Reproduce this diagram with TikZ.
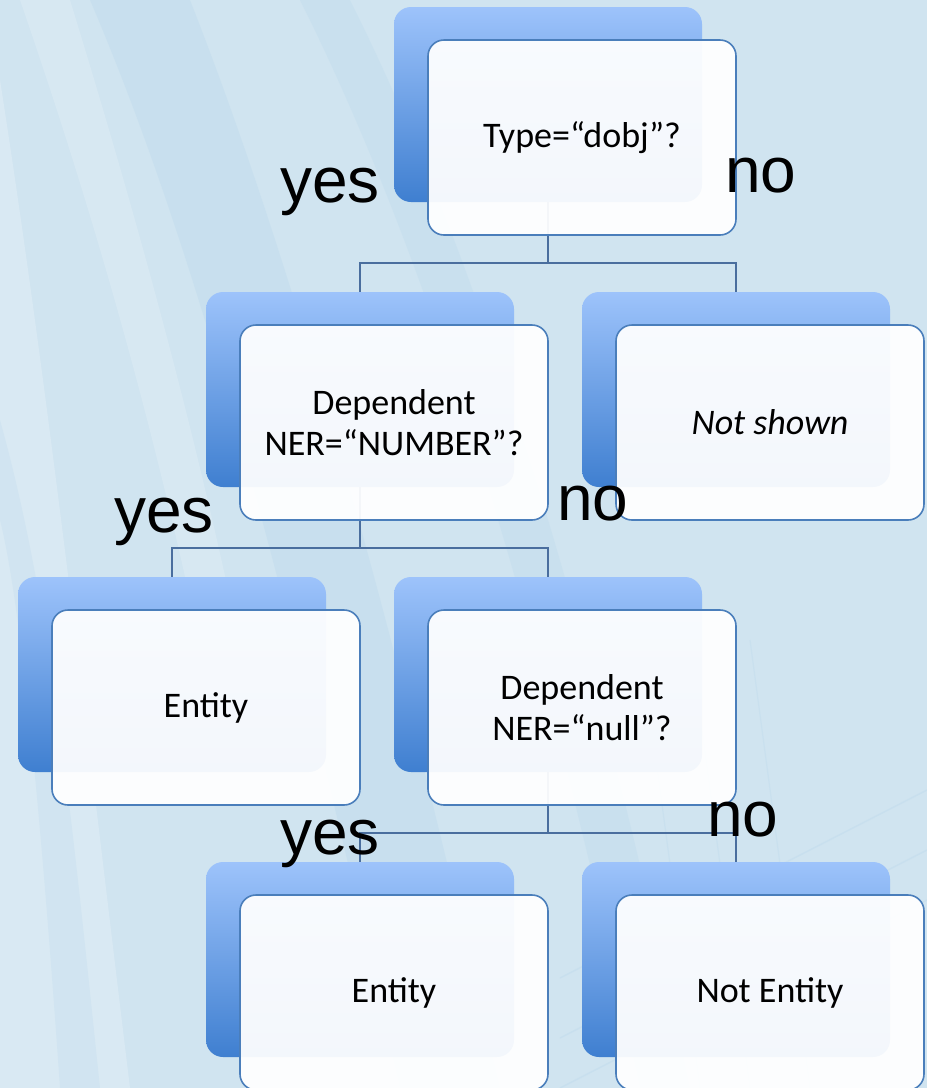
\documentclass[tikz,border=0pt]{standalone}
\usepackage{fontspec}
\setmainfont{Carlito}
\newfontfamily\labelfont{Liberation Sans}
\usetikzlibrary{calc}

\definecolor{bgblue}{HTML}{D0E4F0}
\definecolor{streakblue}{HTML}{BAD8EC}
\definecolor{backtop}{HTML}{9DC3FB}
\definecolor{backmid}{HTML}{88B1EF}
\definecolor{backbot}{HTML}{3F7FD0}
\definecolor{frontline}{HTML}{4A7EBB}
\definecolor{linkcol}{HTML}{4A6E9E}

\tikzset{
  backbox/.style={rectangle, rounded corners=17pt, minimum width=308pt,
    minimum height=195pt, inner sep=0pt, draw=none,
    top color=backtop, middle color=backmid, bottom color=backbot},
  frontbox/.style={rectangle, rounded corners=16pt, minimum width=308pt,
    minimum height=195pt, inner sep=0pt, draw=frontline, line width=1.6pt,
    fill=white, fill opacity=0.94, text opacity=1, text=black,
    align=center, font=\fontsize{36}{41}\selectfont},
  link/.style={draw=linkcol, line width=1.6pt},
  answer/.style={anchor=base west, inner sep=0pt,
    font=\labelfont\fontsize{64}{64}\selectfont}
}

\begin{document}
\begin{tikzpicture}[x=1pt, y=-1pt]
\useasboundingbox (0,0) rectangle (927,1088);

% backdrop with soft brush streaks
\fill[bgblue] (0,0) rectangle (927,1088);
\fill[streakblue, opacity=0.35] (90,0) .. controls (210,280) and (300,650) .. (400,1088)
  -- (500,1088) .. controls (400,650) and (300,280) .. (190,0) -- cycle;
\fill[streakblue, opacity=0.3] (300,0) .. controls (400,200) and (520,520) .. (640,1088)
  -- (690,1088) .. controls (570,520) and (450,200) .. (350,0) -- cycle;
\fill[white, opacity=0.2] (0,80) .. controls (50,400) and (90,760) .. (130,1088)
  -- (0,1088) -- cycle;
\fill[white, opacity=0.15] (20,0) .. controls (110,260) and (180,520) .. (230,800)
  -- (270,800) .. controls (220,520) and (150,260) .. (70,0) -- cycle;
\fill[streakblue, opacity=0.25] (0,420) .. controls (50,600) and (70,800) .. (100,1088)
  -- (60,1088) .. controls (40,800) and (20,600) .. (0,520) -- cycle;
\foreach \o in {0,50,110}{
  \draw[streakblue, line width=1.5pt, opacity=0.35] (560,1088-\o) -- (927,900-\o);
  \draw[streakblue, line width=1.2pt, opacity=0.3] (700+\o,1088) -- (640+\o,640);
}

% back tiles
\node[backbox] (b1)  at (548,104.5) {};
\node[backbox] (b2a) at (360,389.5) {};
\node[backbox] (b2b) at (736,389.5) {};
\node[backbox] (b3a) at (172,674.5) {};
\node[backbox] (b3b) at (548,674.5) {};
\node[backbox] (b4a) at (360,959.5) {};
\node[backbox] (b4b) at (736,959.5) {};

% tree connectors
\draw[link] (b1.south) -- ++(0,61) coordinate (j1) -| (b2a.north);
\draw[link] (j1) -| (b2b.north);
\draw[link] (b2a.south) -- ++(0,61) coordinate (j2) -| (b3a.north);
\draw[link] (j2) -| (b3b.north);
\draw[link] (b3b.south) -- ++(0,61) coordinate (j3) -| (b4a.north);
\draw[link] (j3) -| (b4b.north);

% front cards
\node[frontbox] (f1)  at (582,137.5) {Type=“dobj”?};
\node[frontbox] (f2a) at (394,422.5) {Dependent\\NER=“NUMBER”?};
\node[frontbox] (f2b) at (770,422.5) {\itshape Not shown};
\node[frontbox] (f3a) at (206,707.5) {Entity};
\node[frontbox] (f3b) at (582,707.5) {Dependent\\NER=“null”?};
\node[frontbox] (f4a) at (394,992.5) {Entity};
\node[frontbox] (f4b) at (770,992.5) {Not Entity};

% branch answers
\node[answer] (y1) at (280,202) {yes};
\node[answer] (n1) at (725,192) {no};
\node[answer] (y2) at (114,532) {yes};
\node[answer] (n2) at (557,520) {no};
\node[answer] (y3) at (280,854) {yes};
\node[answer] (n3) at (707,836) {no};
\end{tikzpicture}
\end{document}
